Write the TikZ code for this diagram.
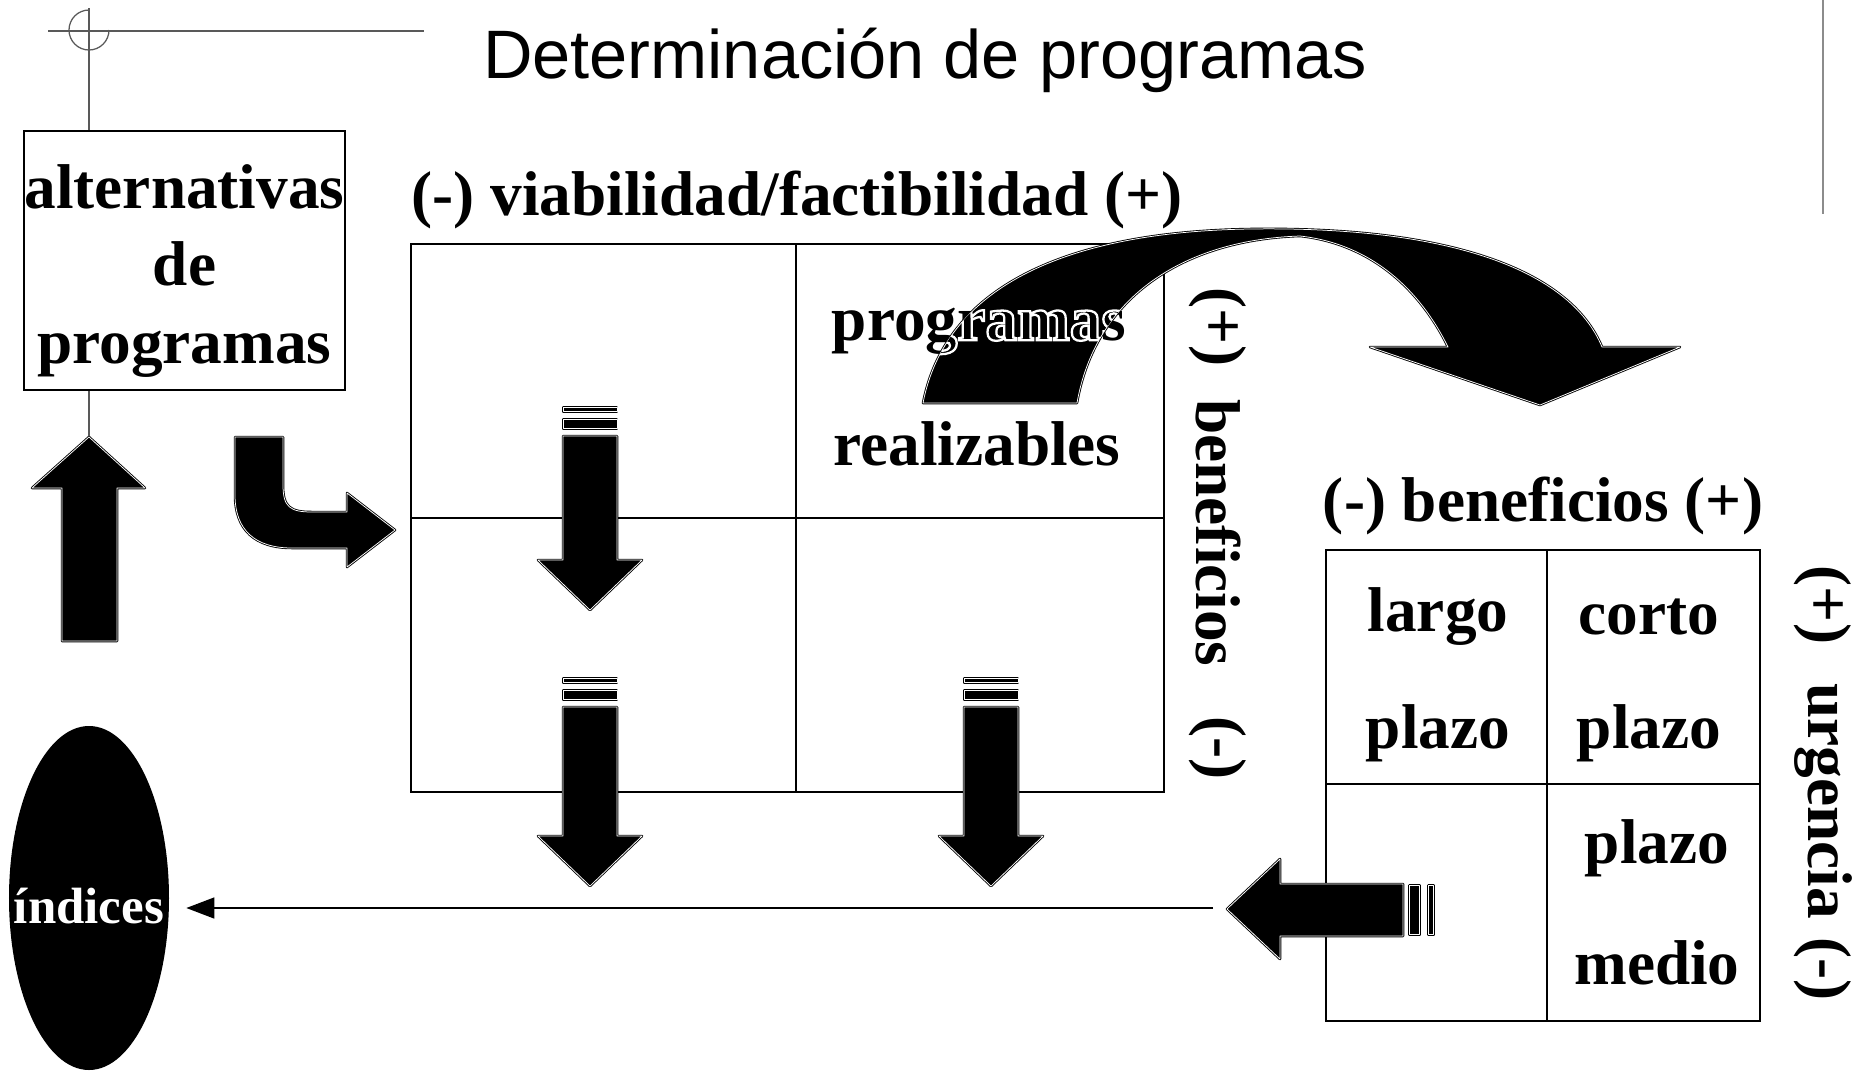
\documentclass[tikz,border=0pt]{standalone}
\usepackage{fontspec}
\setmainfont{Liberation Serif}
\newfontfamily\titlefont{Liberation Sans}
\usetikzlibrary{arrows.meta,positioning,calc,shapes.geometric}
\tikzset{
  lab/.style={font=\fontsize{36}{41}\selectfont\bfseries, inner sep=0pt},
  ttl/.style={font=\titlefont\fontsize{39}{44}\selectfont, inner sep=0pt},
  boxframe/.style={draw, line width=0.45mm},
  cellline/.style={line width=0.35mm},
  blk/.style={fill=black, draw=black, line width=0.5mm, line join=round, postaction={draw=white, line width=0.15mm, line join=round}},
  hair/.style={draw=black!65, line width=0.25mm},
  conn/.style={-{Triangle[length=5.6mm, width=4.2mm]}, line width=0.3mm},
}
% white-rimmed text over the black arrow
\newcommand{\rimtext}[1]{\special{pdf:literal 2 Tr 1 G 1.3 w}#1\special{pdf:literal 0 Tr 0 G}}
\begin{document}
\begin{tikzpicture}[x=0.2mm, y=-0.2mm]
  \useasboundingbox (0,0) rectangle (1868,1072);
  \node[ttl] (title) at (925,60) {Determinación de programas};
  % crop marks
  \coordinate (cm) at (89,8);
  \coordinate (rtop) at (1823,0);
  \draw[hair] (48,31) -- (424,31);
  \draw[hair] (89,10) arc[start angle=90, end angle=360, radius=4mm];
  \draw[hair, draw=black!45] (rtop) -- ++(0,214);
  % alternativas
  \node[boxframe, minimum width=64.2mm, minimum height=51.8mm] (alt) at (184.5,260.5) {};
  \node[lab, align=center, font=\fontsize{36}{44}\selectfont\bfseries] (altt) at (184.5,271) {alternativas\\de\\programas};
  \coordinate (uptip) at (89,437);
  \draw[hair] (cm) -- (cm |- alt.north);
  \draw[hair] (cm |- alt.south) -- (uptip);
  \path[blk] (62,641) -- (62,488) -- (32,488) -- (uptip) -- (145,488) -- (117,488) -- (117,641) -- cycle;
  \path[blk] (235,437) -- (283,437) -- (283,485) .. controls (283,507) and (290,512) .. (312,512) -- (347,512) -- (347,493) -- (395,530) -- (347,567) -- (347,548) -- (292,548) .. controls (255,548) and (235,530) .. (235,495) -- cycle;
  % viabilidad / beneficios
  \draw[boxframe] (411,244) rectangle (1164,792);
  \draw[cellline] (796,244) -- (796,792) (411,518) -- (1164,518);
  \node[lab] (via) at (797,200) {(-) viabilidad/factibilidad (+)};
  \node[lab] (prog) at (979,331) {programas};
  \node[lab] (real) at (977,444) {realizables};
  \node[lab, rotate=-90] (bmas) at (1218,327) {(+)};
  \node[lab, rotate=-90] (bene) at (1218,533) {beneficios};
  \node[lab, rotate=-90] (bmen) at (1218,748) {(-)};
  % big bent arrow
  \path[blk] (923,403) .. controls (945,290) and (1060,232) .. (1250,229) .. controls (1450,226) and (1570,270) .. (1602,347) -- (1680,347) -- (1540,405) -- (1370,347) -- (1448,347) .. controls (1425,300) and (1380,245) .. (1300,236) .. controls (1180,240) and (1095,300) .. (1077,403) -- cycle;
  \begin{scope}
    \clip (923,403) .. controls (945,290) and (1060,232) .. (1250,229) .. controls (1450,226) and (1570,270) .. (1602,347) -- (1680,347) -- (1540,405) -- (1370,347) -- (1448,347) .. controls (1425,300) and (1380,245) .. (1300,236) .. controls (1180,240) and (1095,300) .. (1077,403) -- cycle;
    \node[lab] (progb) at (prog) {\rimtext{programas}};
  \end{scope}
  % striped arrows
  \foreach \cx/\ty/\len in {590/406/124, 590/677/129, 991/677/129} {
    \path[blk] ({\cx-27},{\ty+1.25}) rectangle ({\cx+27},{\ty+5.75});
    \path[blk] ({\cx-27},{\ty+13.25}) rectangle ({\cx+27},{\ty+22.75});
    \path[blk] ({\cx-27},{\ty+30}) -- ({\cx+27},{\ty+30}) -- ({\cx+27},{\ty+30+\len}) -- ({\cx+52},{\ty+30+\len}) -- (\cx,{\ty+80+\len}) -- ({\cx-52},{\ty+30+\len}) -- ({\cx-27},{\ty+30+\len}) -- cycle;
  }
  % urgencia
  \draw[boxframe] (1326,550) rectangle (1760,1021);
  \draw[cellline] (1547,550) -- (1547,1021) (1326,784) -- (1760,784);
  \node[lab] (benh) at (1543,506) {(-) beneficios (+)};
  \node[lab] (lar) at (1438,617) {largo};
  \node[lab] (plz1) at (1438,733) {plazo};
  \node[lab] (cor) at (1649,617) {corto};
  \node[lab] (plz2) at (1649,733) {plazo};
  \node[lab] (plz3) at (1657,848) {plazo};
  \node[lab] (med) at (1657,963) {medio};
  \node[lab, rotate=-90] (umas) at (1823,605) {(+)};
  \node[lab, rotate=-90] (urg) at (1823,801) {urgencia};
  \node[lab, rotate=-90] (umen) at (1823,969) {(-)};
  \path[blk] (1403,884) -- (1403,936) -- (1280,936) -- (1280,959) -- (1227,909) -- (1280,859) -- (1280,884) -- cycle;
  \path[blk] (1409.25,885.25) rectangle (1419.75,934.75);
  \path[blk] (1428.25,885.25) rectangle (1433.75,934.75);
  % indices
  \node[ellipse, fill=black, minimum width=32mm, minimum height=68.8mm, inner sep=0pt] (ind) at (89,898) {};
  \node[lab, text=white, font=\fontsize{29}{30}\selectfont\bfseries] (indt) at (89,906) {índices};
  \coordinate (lnst) at (1213,908);
  \draw[conn, shorten >=3.4mm] (lnst) -- (lnst -| ind.east);
\end{tikzpicture}
\end{document}
